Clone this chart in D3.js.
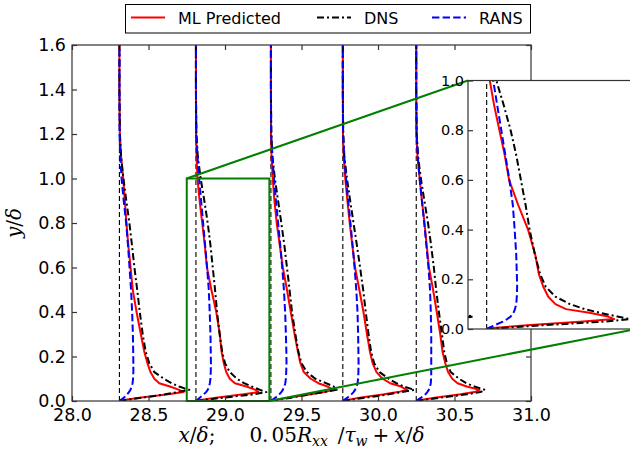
<!DOCTYPE html>
<html><head><meta charset="utf-8">
<script src="https://cdn.jsdelivr.net/npm/d3@7"></script>
<style>body{margin:0;background:#fff} svg{display:block}</style>
</head><body>
<svg id="chart" width="630" height="455"></svg>
<script>
// ---------------- data ----------------
const stations = [28.31, 28.81, 29.30, 29.77, 30.25];
const yGrid = [0, 0.005, 0.015, 0.03, 0.04, 0.05, 0.065, 0.08, 0.1, 0.13, 0.17, 0.22, 0.3, 0.4, 0.5, 0.6, 0.7, 0.8, 0.9, 1.0, 1.1, 1.2, 1.4, 1.6];
// 0.05 Rxx / tau_w at each y of yGrid, one row per station
const mlOffsets = [
  [0, 0.03, 0.13, 0.32, 0.42, 0.39, 0.33, 0.26, 0.228, 0.203, 0.183, 0.163, 0.14, 0.112, 0.087, 0.073, 0.058, 0.046, 0.035, 0.025, 0.011, 0.003, 0, 0],
  [0, 0.03, 0.13, 0.31, 0.41, 0.39, 0.33, 0.255, 0.221, 0.198, 0.182, 0.168, 0.156, 0.133, 0.101, 0.072, 0.058, 0.041, 0.024, 0.01, 0.004, 0.001, 0, 0],
  [0, 0.03, 0.11, 0.26, 0.35, 0.41, 0.37, 0.31, 0.26, 0.215, 0.193, 0.177, 0.155, 0.13, 0.105, 0.078, 0.058, 0.038, 0.023, 0.012, 0.004, 0.001, 0, 0],
  [0, 0.03, 0.11, 0.27, 0.36, 0.42, 0.38, 0.31, 0.26, 0.22, 0.195, 0.178, 0.158, 0.135, 0.108, 0.08, 0.062, 0.045, 0.03, 0.016, 0.006, 0.001, 0, 0],
  [0, 0.03, 0.12, 0.29, 0.38, 0.414, 0.33, 0.27, 0.235, 0.208, 0.19, 0.172, 0.157, 0.134, 0.11, 0.083, 0.068, 0.054, 0.037, 0.022, 0.008, 0.002, 0, 0]
];
const dnsOffsets = [
  [0, 0.05, 0.15, 0.3, 0.38, 0.457, 0.39, 0.34, 0.29, 0.228, 0.195, 0.172, 0.152, 0.133, 0.116, 0.098, 0.082, 0.065, 0.045, 0.026, 0.01, 0.003, 0, 0],
  [0, 0.06, 0.18, 0.38, 0.46, 0.42, 0.365, 0.315, 0.268, 0.221, 0.19, 0.172, 0.155, 0.138, 0.125, 0.11, 0.095, 0.077, 0.055, 0.031, 0.012, 0.003, 0, 0],
  [0, 0.05, 0.13, 0.26, 0.34, 0.43, 0.41, 0.36, 0.29, 0.235, 0.2, 0.18, 0.16, 0.138, 0.122, 0.105, 0.088, 0.068, 0.047, 0.026, 0.01, 0.003, 0, 0],
  [0, 0.05, 0.15, 0.3, 0.38, 0.468, 0.4, 0.35, 0.3, 0.24, 0.205, 0.185, 0.168, 0.15, 0.133, 0.113, 0.092, 0.07, 0.048, 0.027, 0.01, 0.003, 0, 0],
  [0, 0.05, 0.16, 0.33, 0.42, 0.45, 0.38, 0.327, 0.28, 0.225, 0.2, 0.183, 0.168, 0.148, 0.13, 0.115, 0.097, 0.077, 0.053, 0.03, 0.012, 0.003, 0, 0]
];
const ransOffsets = [
  [0, 0.01, 0.03, 0.05, 0.062, 0.072, 0.08, 0.086, 0.089, 0.091, 0.091, 0.09, 0.088, 0.083, 0.076, 0.066, 0.056, 0.044, 0.028, 0.014, 0.005, 0.001, 0, 0],
  [0, 0.008, 0.025, 0.052, 0.066, 0.077, 0.086, 0.091, 0.095, 0.097, 0.098, 0.097, 0.095, 0.09, 0.084, 0.073, 0.06, 0.047, 0.034, 0.021, 0.01, 0.003, 0, 0],
  [0, 0.01, 0.03, 0.055, 0.068, 0.078, 0.088, 0.094, 0.098, 0.1, 0.102, 0.101, 0.098, 0.093, 0.085, 0.074, 0.061, 0.047, 0.033, 0.02, 0.009, 0.002, 0, 0],
  [0, 0.01, 0.03, 0.056, 0.07, 0.08, 0.09, 0.096, 0.1, 0.102, 0.103, 0.102, 0.1, 0.096, 0.088, 0.077, 0.064, 0.05, 0.035, 0.021, 0.009, 0.002, 0, 0],
  [0, 0.01, 0.032, 0.06, 0.072, 0.082, 0.09, 0.095, 0.097, 0.098, 0.098, 0.098, 0.098, 0.095, 0.09, 0.08, 0.066, 0.052, 0.037, 0.022, 0.01, 0.002, 0, 0]
];
const seriesNames = ["ML Predicted", "DNS", "RANS"];
const xTicks = [28.0, 28.5, 29.0, 29.5, 30.0, 30.5, 31.0];
const yTicks = [0.0, 0.2, 0.4, 0.6, 0.8, 1.0, 1.2, 1.4, 1.6];
const insetYTicks = [0.0, 0.2, 0.4, 0.6, 0.8, 1.0];
const xDomain = [28.0, 31.0];
const yDomain = [0.0, 1.6];
const zoomX = [28.75, 29.29];
const zoomY = [0.0, 1.0];

// ---------------- styles ----------------
const seriesStyle = [
  {color: "#ff0000", width: 2, dash: null},
  {color: "#000000", width: 2, dash: "7,3,2,3"},
  {color: "#0000ff", width: 2, dash: "7.4,3.2"}
];
const seriesData = [mlOffsets, dnsOffsets, ransOffsets];
const green = "#007f00";
const spine = "#333";

const svg = d3.select("#chart");
const M = {l: 72, r: 531, t: 45, b: 401};
const x = d3.scaleLinear(xDomain, [M.l, M.r]);
const y = d3.scaleLinear(yDomain, [M.b, M.t]);
const I = {l: 468, r: 636, t: 80.5, b: 329};
const xi = d3.scaleLinear(zoomX, [I.l, I.r]);
const yi = d3.scaleLinear(zoomY, [I.b, I.t]);

const defs = svg.append("defs");
defs.append("clipPath").attr("id", "clipMain").append("rect")
  .attr("x", M.l).attr("y", M.t).attr("width", M.r - M.l).attr("height", M.b - M.t);
defs.append("clipPath").attr("id", "clipInset").append("rect")
  .attr("x", I.l).attr("y", I.t).attr("width", I.r - I.l).attr("height", I.b - I.t);

function drawProfiles(g, xs, ys) {
  const line = d3.line().x(d => xs(d[0])).y(d => ys(d[1]));
  stations.forEach(s => {
    g.append("line")
      .attr("x1", xs(s)).attr("x2", xs(s))
      .attr("y1", ys(0)).attr("y2", ys(1.6))
      .attr("stroke", "#000").attr("stroke-width", 1.1).attr("stroke-dasharray", "5,3");
  });
  seriesData.forEach((rows, k) => {
    const st = seriesStyle[k];
    rows.forEach((offs, i) => {
      const pts = yGrid.map((yy, j) => [stations[i] + offs[j], yy]);
      g.append("path").attr("d", line(pts))
        .attr("fill", "none").attr("stroke", st.color)
        .attr("stroke-width", st.width)
        .attr("stroke-dasharray", st.dash)
        .attr("stroke-linejoin", "round");
    });
  });
}

// main plot background
svg.append("rect").attr("x", M.l).attr("y", M.t).attr("width", M.r - M.l).attr("height", M.b - M.t)
  .attr("fill", "#fff");

const gMain = svg.append("g").attr("clip-path", "url(#clipMain)");
drawProfiles(gMain, x, y);

// zoom box
svg.append("rect")
  .attr("x", x(zoomX[0])).attr("y", y(zoomY[1]))
  .attr("width", x(zoomX[1]) - x(zoomX[0])).attr("height", y(zoomY[0]) - y(zoomY[1]))
  .attr("fill", "none").attr("stroke", green).attr("stroke-width", 2);

// frame
svg.append("rect").attr("x", M.l).attr("y", M.t).attr("width", M.r - M.l).attr("height", M.b - M.t)
  .attr("fill", "none").attr("stroke", spine).attr("stroke-width", 1.2);

const fmt = d3.format(".1f");
function styleAxis(g, size) {
  g.select(".domain").remove();
  g.selectAll(".tick line").attr("stroke", spine).attr("stroke-width", 1.2);
  g.selectAll(".tick text").attr("font-family", "DejaVu Sans").attr("font-size", size).attr("fill", "#000");
}
svg.append("g").attr("transform", `translate(0,${M.b})`)
  .call(d3.axisBottom(x).tickValues(xTicks).tickFormat(fmt).tickSizeInner(-5).tickSizeOuter(0).tickPadding(8))
  .call(g => styleAxis(g, 17.5));
svg.append("g").attr("transform", `translate(0,${M.t})`)
  .call(d3.axisTop(x).tickValues(xTicks).tickFormat("").tickSizeInner(-5).tickSizeOuter(0))
  .call(g => styleAxis(g, 17.5));
svg.append("g").attr("transform", `translate(${M.l},0)`)
  .call(d3.axisLeft(y).tickValues(yTicks).tickFormat(fmt).tickSizeInner(-5).tickSizeOuter(0).tickPadding(6))
  .call(g => styleAxis(g, 17.5));
svg.append("g").attr("transform", `translate(${M.r},0)`)
  .call(d3.axisRight(y).tickValues(yTicks).tickFormat("").tickSizeInner(-5).tickSizeOuter(0))
  .call(g => styleAxis(g, 17.5));

// connectors (mark_inset)
svg.append("line").attr("x1", x(zoomX[0])).attr("y1", y(zoomY[1])).attr("x2", I.l).attr("y2", I.t)
  .attr("stroke", green).attr("stroke-width", 2);
svg.append("line").attr("x1", x(zoomX[1])).attr("y1", y(zoomY[0])).attr("x2", I.r).attr("y2", I.b)
  .attr("stroke", green).attr("stroke-width", 2);

// inset
svg.append("rect").attr("x", I.l).attr("y", I.t).attr("width", I.r - I.l).attr("height", I.b - I.t)
  .attr("fill", "#fff");
const gIn = svg.append("g").attr("clip-path", "url(#clipInset)");
drawProfiles(gIn, xi, yi);
svg.append("rect").attr("x", I.l).attr("y", I.t).attr("width", I.r - I.l).attr("height", I.b - I.t)
  .attr("fill", "none").attr("stroke", spine).attr("stroke-width", 1.2);
svg.append("g").attr("transform", `translate(${I.l},0)`)
  .call(d3.axisLeft(yi).tickValues(insetYTicks).tickFormat(fmt).tickSizeInner(-5).tickSizeOuter(0).tickPadding(4))
  .call(g => styleAxis(g, 14.5));

// axis labels
const serif = "DejaVu Serif";
const xl = svg.append("text").attr("x", (M.l + M.r) / 2).attr("y", 442)
  .attr("text-anchor", "middle").attr("font-family", serif).attr("font-size", 20);
xl.append("tspan").attr("font-style", "italic").text("x");
xl.append("tspan").text("/");
xl.append("tspan").attr("font-style", "italic").text("δ");
xl.append("tspan").text(";");
xl.append("tspan").attr("dx", 34).text("0.");
xl.append("tspan").attr("dx", 3).text("05");
xl.append("tspan").attr("font-style", "italic").text("R");
xl.append("tspan").attr("font-style", "italic").attr("font-size", 14).attr("dy", 4).text("xx");
xl.append("tspan").attr("dy", -4).attr("dx", 10).text("/");
xl.append("tspan").attr("font-style", "italic").text("τ");
xl.append("tspan").attr("font-style", "italic").attr("font-size", 14).attr("dy", 4).text("w");
xl.append("tspan").attr("dy", -4).attr("dx", 5).text("+");
xl.append("tspan").attr("dx", 5).attr("font-style", "italic").text("x");
xl.append("tspan").text("/");
xl.append("tspan").attr("font-style", "italic").text("δ");

const yl = svg.append("text").attr("transform", `translate(21,${(M.t + M.b) / 2}) rotate(-90)`)
  .attr("text-anchor", "middle").attr("font-family", serif).attr("font-size", 20);
yl.append("tspan").attr("font-style", "italic").text("y");
yl.append("tspan").text("/");
yl.append("tspan").attr("font-style", "italic").text("δ");

// legend
const lg = svg.append("g");
lg.append("rect").attr("x", 125.5).attr("y", 4.5).attr("width", 405).attr("height", 28.5)
  .attr("fill", "#fff").attr("stroke", "#000").attr("stroke-width", 1);
const legX = [131, 317, 432];
seriesNames.forEach((name, k) => {
  const st = seriesStyle[k];
  lg.append("line").attr("x1", legX[k]).attr("x2", legX[k] + 34).attr("y1", 17.5).attr("y2", 17.5)
    .attr("stroke", st.color).attr("stroke-width", st.width).attr("stroke-dasharray", st.dash);
  lg.append("text").attr("x", legX[k] + 47).attr("y", 23.5)
    .attr("font-family", "DejaVu Sans").attr("font-size", 16).text(name);
});
</script>
</body></html>
